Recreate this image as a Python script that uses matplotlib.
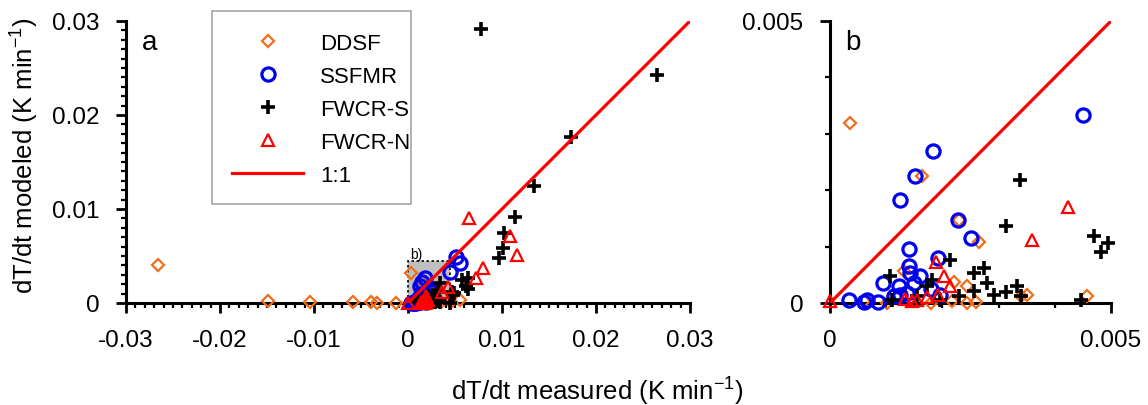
import matplotlib.pyplot as plt
import matplotlib.patches as patches
from matplotlib.lines import Line2D
from matplotlib.ticker import MultipleLocator, FixedLocator, FixedFormatter

plt.rcParams['font.family'] = ['Liberation Sans', 'DejaVu Sans']
plt.rcParams['mathtext.fontset'] = 'custom'
plt.rcParams['mathtext.rm'] = 'Liberation Sans'
plt.rcParams['axes.unicode_minus'] = False

# heating rates dT/dt in K/min: measured (x) vs modeled (y)
ddsf_meas = [-0.0266, -0.0149, -0.0104, -0.0059, -0.0039, -0.0033, -0.0013,
             0.00036, 0.00164, 0.00229, 0.00265, 0.00131, 0.00220, 0.00244,
             0.00351, 0.00458, 0.00217, 0.00244, 0.00259, 0.00179, 0.00060,
             0.00101, 0.00339, 0.00550]
ddsf_mod = [0.0040, 0.0002, 0.0001, 0.0001, 0.0001, 0.0000, 0.0000,
            0.00320, 0.00225, 0.00148, 0.00108, 0.00056, 0.00038, 0.00030,
            0.00015, 0.00013, 0.00003, 0.00000, 0.00001, 0.00000, 0.00003,
            0.00000, 0.00012, 0.00030]

ssfmr_meas = [0.00451, 0.00183, 0.00151, 0.00125, 0.00228, 0.00250, 0.00140,
              0.00193, 0.00140, 0.00143, 0.00161, 0.00095, 0.00122, 0.00149,
              0.00137, 0.00179, 0.00196, 0.00033, 0.00060, 0.00065, 0.00086,
              0.00113, 0.00125, 0.00510, 0.00550]
ssfmr_mod = [0.00333, 0.00270, 0.00225, 0.00183, 0.00148, 0.00115, 0.00096,
             0.00080, 0.00065, 0.00053, 0.00047, 0.00036, 0.00030, 0.00036,
             0.00018, 0.00024, 0.00015, 0.00005, 0.00001, 0.00005, 0.00001,
             0.00012, 0.00015, 0.00490, 0.00430]

fwcrs_meas = [0.0078, 0.0265, 0.0173, 0.0134, 0.0114, 0.0102, 0.0101, 0.0097,
              0.0064, 0.0062, 0.0057, 0.0064,
              0.00338, 0.00314, 0.00469, 0.00494, 0.00483, 0.00214, 0.00274,
              0.00257, 0.00107, 0.00279, 0.00182, 0.00173, 0.00333, 0.00256,
              0.00313, 0.00292, 0.00339, 0.00229, 0.00446, 0.00110, 0.00155,
              0.00196]
fwcrs_mod = [0.0291, 0.0243, 0.0177, 0.0124, 0.0092, 0.0075, 0.0059, 0.0048,
             0.0027, 0.0018, 0.0024, 0.0015,
             0.00218, 0.00137, 0.00118, 0.00107, 0.00090, 0.00076, 0.00062,
             0.00053, 0.00047, 0.00036, 0.00041, 0.00030, 0.00030, 0.00021,
             0.00019, 0.00015, 0.00012, 0.00012, 0.00005, 0.00005, 0.00013,
             0.00006]

fwcrn_meas = [0.0, 0.00424, 0.00360, 0.00188, 0.00202, 0.00214, 0.00193,
              0.00134, 0.00155, 0.00173, 0.00146,
              0.00652, 0.01085, 0.01163, 0.00801, 0.00723]
fwcrn_mod = [0.00003, 0.00170, 0.00112, 0.00073, 0.00047, 0.00030, 0.00015,
             0.00007, 0.00005, 0.00011, 0.00003,
             0.00901, 0.00716, 0.00511, 0.00369, 0.00263]

series_names = ['DDSF', 'SSFMR', 'FWCR-S', 'FWCR-N']

a_xticks = [-0.03, -0.02, -0.01, 0, 0.01, 0.02, 0.03]
a_xticklabels = ['-0.03', '-0.02', '-0.01', '0', '0.01', '0.02', '0.03']
a_yticks = [0, 0.01, 0.02, 0.03]
a_yticklabels = ['0', '0.01', '0.02', '0.03']
b_ticks = [0, 0.005]
b_ticklabels = ['0', '0.005']
b_max = 0.005
zoom_extent = 0.0045

marker_styles = [
    dict(marker='D', ms=6, mec='#F26C1A', mfc='none', mew=1.6),
    dict(marker='o', ms=9.5, mec='#0000F0', mfc='none', mew=2.3),
    dict(marker='+', ms=10, mec='black', mew=2.6),
    dict(marker='^', ms=8.5, mec='#FF0000', mfc='none', mew=1.6),
]
data = [(ddsf_meas, ddsf_mod), (ssfmr_meas, ssfmr_mod),
        (fwcrs_meas, fwcrs_mod), (fwcrn_meas, fwcrn_mod)]

W, H = 1148, 406
fig = plt.figure(figsize=(W / 100, H / 100), dpi=100)
ax_a = fig.add_axes([126 / W, 102 / H, 564 / W, 282 / H])
ax_b = fig.add_axes([830 / W, 102 / H, 281 / W, 282 / H])


def style_axes(ax, xlim, ylim, xt, xl, yt, yl):
    ax.set_xlim(xlim)
    ax.set_ylim(ylim)
    for s in ['top', 'right']:
        ax.spines[s].set_visible(False)
    for s in ['left', 'bottom']:
        ax.spines[s].set_linewidth(2.2)
    ax.xaxis.set_major_locator(FixedLocator(xt))
    ax.xaxis.set_major_formatter(FixedFormatter(xl))
    ax.yaxis.set_major_locator(FixedLocator(yt))
    ax.yaxis.set_major_formatter(FixedFormatter(yl))
    ax.xaxis.set_minor_locator(MultipleLocator(0.001))
    ax.yaxis.set_minor_locator(MultipleLocator(0.001))
    ax.tick_params(which='major', direction='out', length=7, width=2,
                   labelsize=17.5, pad=12)
    ax.tick_params(which='minor', direction='out', length=3.6, width=1.6)


style_axes(ax_a, (-0.03, 0.03), (0, 0.03), a_xticks, a_xticklabels,
           a_yticks, a_yticklabels)
style_axes(ax_b, (0, b_max), (0, b_max), b_ticks, b_ticklabels,
           b_ticks, b_ticklabels)

# shaded region that panel b enlarges
ax_a.add_patch(patches.Rectangle((0, 0), zoom_extent, zoom_extent,
                                 facecolor='#BFBFBF', edgecolor='black',
                                 linestyle=(0, (1.5, 1.5)), lw=1.2, zorder=1))
ax_a.text(0.0002, zoom_extent, 'b)', fontsize=10, va='bottom', ha='left')

for (x, y), st in zip(data, marker_styles):
    ax_a.plot(x, y, linestyle='none', clip_on=False, zorder=3, **st)
    inside = [(u, v) for u, v in zip(x, y)
              if 0 <= u <= b_max and 0 <= v <= b_max]
    xb = [p[0] for p in inside]
    yb = [p[1] for p in inside]
    ax_b.plot(xb, yb, linestyle='none', clip_on=False, zorder=3, **st)

ax_a.plot([0, 0.03], [0, 0.03], color='#FF0000', lw=2.3, zorder=4)
ax_b.plot([0, b_max], [0, b_max], color='#FF0000', lw=2.3, zorder=4)

ax_a.text(0.028, 0.901, 'a', transform=ax_a.transAxes, fontsize=20,
          va='baseline')
ax_b.text(0.053, 0.901, 'b', transform=ax_b.transAxes, fontsize=20,
          va='baseline')

fig.text(24 / W, 1 - 156 / H, 'dT/dt modeled (K min$^{\\mathregular{-1}}$)',
         rotation=90, ha='center', va='center', fontsize=18.5)
fig.text(597 / W, 6 / H, 'dT/dt measured (K min$^{\\mathregular{-1}}$)',
         ha='center', va='baseline', fontsize=18.5)

# legend frame drawn separately so the box can be sized freely
fig.add_artist(patches.Rectangle((212 / W, 1 - 205 / H), 199 / W, 193 / H,
                                 transform=fig.transFigure, facecolor='white',
                                 edgecolor='#A6A6A6', lw=1.2))
handles = [Line2D([], [], linestyle='none', **st) for st in marker_styles]
handles.append(Line2D([], [], color='#FF0000', lw=2.3))
fig.legend(handles, series_names + ['1:1'], loc='upper left',
           bbox_to_anchor=(232 / W, 1 - 34 / H), frameon=False, fontsize=16,
           handlelength=3.2, handletextpad=0.77, labelspacing=0.54,
           borderpad=0, borderaxespad=0)

fig.savefig('out.png', dpi=100)
